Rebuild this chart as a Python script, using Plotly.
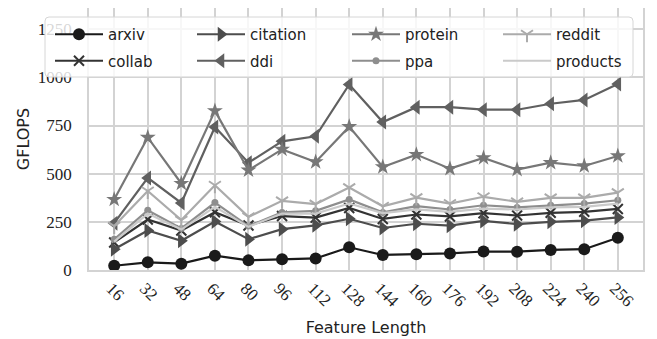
import plotly.graph_objects as go

feature_length = ["16", "32", "48", "64", "80", "96", "112", "128", "144", "160", "176", "192", "208", "224", "240", "256"]

arxiv = [22, 40, 33, 74, 50, 56, 60, 118, 78, 82, 86, 96, 95, 104, 108, 167]
collab = [143, 262, 205, 300, 231, 280, 272, 322, 265, 288, 278, 295, 283, 297, 302, 317]
citation = [108, 205, 152, 252, 160, 212, 232, 266, 218, 240, 230, 255, 238, 250, 256, 273]
ddi = [243, 478, 348, 742, 557, 668, 694, 963, 768, 845, 845, 832, 832, 863, 883, 966]
protein = [366, 688, 449, 826, 518, 626, 561, 744, 535, 599, 526, 582, 521, 557, 540, 592]
ppa = [159, 310, 216, 350, 228, 299, 307, 366, 299, 331, 314, 336, 325, 336, 345, 362]
reddit = [228, 410, 259, 440, 276, 359, 342, 428, 331, 376, 345, 380, 354, 374, 374, 402]
products = [147, 293, 210, 328, 224, 293, 293, 345, 295, 315, 302, 319, 314, 325, 328, 345]

y_ticks = [0, 250, 500, 750, 1000, 1250]

# The page body has an 8px default margin, so the figure is drawn 8px in.
OFF = 8
W, H = 657 - OFF, 339 - OFF
# plot area on the page: x 89..643, y 7..270
ML = 89 - OFF
MT = max(0, 7 - OFF)
MR = (657 - 643) - 0
MR = W - (643 - OFF)
MB = H - (270 - OFF)
PW, PH = W - ML - MR, H - MT - MB
PLOT_LEFT_PAGE = ML + OFF
PLOT_BOTTOM_PAGE = H - MB + OFF


def px_x(p):
    """page pixel x -> paper x"""
    return (p - PLOT_LEFT_PAGE) / PW


def px_y(p):
    """page pixel y -> paper y"""
    return (PLOT_BOTTOM_PAGE - p) / PH


series = [
    # name, values, color, symbol, size, legend id, line-only marker
    ("arxiv", arxiv, "#1a1a1a", "circle", 12, "legend", False),
    ("collab", collab, "#333333", "x-thin", 10, "legend", True),
    ("citation", citation, "#4d4d4d", "triangle-right", 13, "legend2", False),
    ("ddi", ddi, "#606060", "triangle-left", 13, "legend2", False),
    ("protein", protein, "#777777", "star", 12, "legend3", False),
    ("ppa", ppa, "#8e8e8e", "circle", 7, "legend3", False),
    ("reddit", reddit, "#ababab", "y-down", 10, "legend4", True),
    ("products", products, "#cacaca", None, 0, "legend4", False),
]

fig = go.Figure()
for name, vals, color, symbol, size, leg, lineonly in series:
    if symbol is None:
        mode = "lines"
        marker = None
    else:
        mode = "lines+markers"
        if lineonly:
            marker = dict(symbol=symbol, size=size, color=color, line=dict(color=color, width=2))
        else:
            marker = dict(symbol=symbol, size=size, color=color, line=dict(width=0))
    fig.add_trace(go.Scatter(
        x=feature_length, y=vals, name=name, mode=mode,
        line=dict(color=color, width=2.2),
        marker=marker, legend=leg, legendgroup=name,
    ))

legend_font = dict(family="DejaVu Sans", size=15, color="#222222")
col_px = [50, 192, 347, 498]
leg_common = dict(
    orientation="v", yanchor="top", xanchor="left", y=px_y(18),
    bgcolor="rgba(0,0,0,0)", borderwidth=0, font=legend_font,
    itemwidth=48, tracegroupgap=4,
)

# rounded legend frame
x0, x1 = px_x(45), px_x(633)
y0, y1 = px_y(77), px_y(17)
rx, ry = 4 / PW, 4 / PH
frame_path = (
    f"M{x0 + rx},{y1} L{x1 - rx},{y1} Q{x1},{y1} {x1},{y1 - ry} "
    f"L{x1},{y0 + ry} Q{x1},{y0} {x1 - rx},{y0} "
    f"L{x0 + rx},{y0} Q{x0},{y0} {x0},{y0 + ry} "
    f"L{x0},{y1 - ry} Q{x0},{y1} {x0 + rx},{y1} Z"
)

fig.update_layout(
    width=W, height=H,
    margin=dict(l=ML, r=MR, t=MT, b=MB, autoexpand=False),
    plot_bgcolor="white", paper_bgcolor="white",
    font=dict(family="DejaVu Sans", size=15, color="#222222"),
    showlegend=True,
    legend=dict(x=px_x(col_px[0]), **leg_common),
    legend2=dict(x=px_x(col_px[1]), **leg_common),
    legend3=dict(x=px_x(col_px[2]), **leg_common),
    legend4=dict(x=px_x(col_px[3]), **leg_common),
    shapes=[dict(
        type="path", xref="paper", yref="paper", path=frame_path,
        fillcolor="rgba(255,255,255,0.82)", line=dict(color="#d6d6d6", width=1),
        layer="above",
    )],
)
fig.update_xaxes(
    type="category", range=[-0.75, 15.75],
    showgrid=True, gridcolor="#d3d3d3", gridwidth=1.5,
    showline=True, linecolor="#d3d3d3", linewidth=1.5, mirror=True,
    ticks="", tickangle=45, ticklabelstandoff=0, ticklabelshift=-3,
    tickfont=dict(family="Liberation Serif", size=17, color="#222222"),
    title=dict(text="Feature Length", font=dict(family="DejaVu Sans", size=16, color="#222222"), standoff=12),
    zeroline=False,
)
fig.update_yaxes(
    range=[0, 1360], tickvals=y_ticks, ticktext=[str(v) for v in y_ticks],
    showgrid=True, gridcolor="#d3d3d3", gridwidth=1.5,
    showline=True, linecolor="#d3d3d3", linewidth=1.5, mirror=True,
    ticks="", ticklabelstandoff=12,
    tickfont=dict(family="Liberation Serif", size=17, color="#222222"),
    title=dict(text="GFLOPS", font=dict(family="DejaVu Sans", size=16, color="#222222"), standoff=4),
    zeroline=False,
)

fig.write_html("out.html")
